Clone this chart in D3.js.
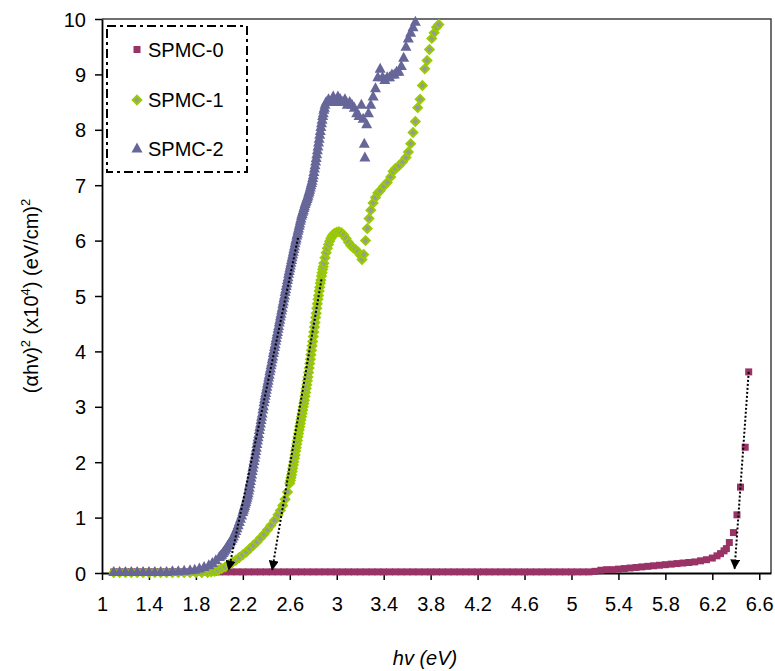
<!DOCTYPE html>
<html>
<head>
<meta charset="utf-8">
<script src="https://cdn.jsdelivr.net/npm/d3@7"></script>
<style>
    body { margin: 0; background: #fff; }
    text { font-family: "Liberation Sans", Arial, sans-serif; }
</style>
</head>
<body>
<svg id="chart" width="775" height="671"></svg>
<script>
// tick labels
const xTicks = [1, 1.4, 1.8, 2.2, 2.6, 3, 3.4, 3.8, 4.2, 4.6, 5, 5.4, 5.8, 6.2, 6.6];
const yTicks = [0, 1, 2, 3, 4, 5, 6, 7, 8, 9, 10];
const seriesNames = ["SPMC-0", "SPMC-1", "SPMC-2"];

// [hv (eV), (ahv)^2 x10^4]
const spmc0 = [
    [1.10, .02], [1.15, .02], [1.20, .02], [1.25, .02], [1.30, .02], [1.35, .02], [1.40, .02], [1.45, .02],
    [1.50, .02], [1.55, .02], [1.60, .02], [1.65, .02], [1.70, .02], [1.75, .02], [1.80, .02], [1.85, .02],
    [1.90, .02], [1.95, .02], [2.00, .02], [2.05, .02], [2.10, .02], [2.15, .02], [2.20, .02], [2.25, .02],
    [2.30, .02], [2.35, .02], [2.40, .02], [2.45, .02], [2.50, .02], [2.55, .02], [2.60, .02], [2.65, .02],
    [2.70, .02], [2.75, .02], [2.80, .02], [2.85, .02], [2.90, .02], [2.95, .02], [3.00, .02], [3.05, .02],
    [3.10, .02], [3.15, .02], [3.20, .02], [3.25, .02], [3.30, .02], [3.35, .02], [3.40, .02], [3.45, .02],
    [3.50, .02], [3.55, .02], [3.60, .02], [3.65, .02], [3.70, .02], [3.75, .02], [3.80, .02], [3.85, .02],
    [3.90, .02], [3.95, .02], [4.00, .02], [4.05, .02], [4.10, .02], [4.15, .02], [4.20, .02], [4.25, .02],
    [4.30, .02], [4.35, .02], [4.40, .02], [4.45, .02], [4.50, .02], [4.55, .02], [4.60, .02], [4.65, .02],
    [4.70, .02], [4.75, .02], [4.80, .02], [4.85, .02], [4.90, .02], [4.95, .02], [5.00, .02], [5.05, .02],
    [5.10, .02], [5.15, .02], [5.20, .03], [5.25, .05], [5.30, .06], [5.35, .06], [5.40, .07], [5.45, .08],
    [5.50, .09], [5.55, .10], [5.60, .11], [5.65, .12], [5.70, .13], [5.75, .14], [5.80, .15], [5.85, .16],
    [5.90, .17], [5.95, .18], [6.00, .19], [6.05, .20], [6.10, .22], [6.15, .24], [6.20, .27], [6.24, .31],
    [6.27, .35], [6.30, .40], [6.32, .44], [6.345, .55], [6.38, .73], [6.41, 1.05], [6.44, 1.55], [6.48, 2.27],
    [6.51, 3.63]
];

const spmc1 = [
    [1.10, .01], [1.15, .01], [1.20, .01], [1.25, .01], [1.30, .01], [1.35, .01], [1.40, .01], [1.45, .01],
    [1.50, .01], [1.55, .01], [1.60, .01], [1.65, .01], [1.70, .01], [1.75, .01], [1.80, .01], [1.85, .01],
    [1.90, .01], [1.93, .02], [1.96, .03], [1.99, .05], [2.02, .08], [2.05, .11], [2.08, .15], [2.11, .19],
    [2.14, .23], [2.17, .28], [2.20, .33], [2.23, .38], [2.26, .44], [2.29, .50], [2.32, .56], [2.35, .63],
    [2.38, .70], [2.41, .78], [2.44, .86], [2.47, .95], [2.50, 1.05], [2.52, 1.13], [2.54, 1.22], [2.56, 1.33],
    [2.58, 1.46], [2.60, 1.62], [2.605, 1.67], [2.61, 1.72], [2.615, 1.77], [2.62, 1.83], [2.625, 1.89],
    [2.63, 1.95], [2.635, 2.01], [2.64, 2.07], [2.645, 2.13], [2.65, 2.20], [2.655, 2.26], [2.66, 2.33],
    [2.665, 2.39], [2.67, 2.46], [2.675, 2.52], [2.68, 2.58], [2.685, 2.64], [2.69, 2.70], [2.695, 2.76],
    [2.70, 2.82], [2.705, 2.88], [2.71, 2.94], [2.715, 3.00], [2.72, 3.06], [2.725, 3.12], [2.73, 3.19],
    [2.735, 3.26], [2.74, 3.33], [2.745, 3.40], [2.75, 3.47], [2.755, 3.54], [2.76, 3.62], [2.765, 3.70],
    [2.77, 3.78], [2.775, 3.86], [2.78, 3.94], [2.785, 4.02], [2.79, 4.10], [2.795, 4.18], [2.80, 4.27],
    [2.805, 4.35], [2.81, 4.44], [2.815, 4.52], [2.82, 4.61], [2.825, 4.69], [2.83, 4.78], [2.835, 4.86],
    [2.84, 4.94], [2.845, 5.01], [2.85, 5.09], [2.855, 5.16], [2.86, 5.23], [2.865, 5.29], [2.87, 5.36],
    [2.875, 5.42], [2.88, 5.48], [2.885, 5.53], [2.89, 5.59], [2.90, 5.69],
    [2.91, 5.78], [2.92, 5.86], [2.93, 5.93], [2.94, 5.99], [2.95, 6.04], [2.96, 6.08], [2.97, 6.11], [2.98, 6.13],
    [3.00, 6.15], [3.02, 6.16], [3.04, 6.14], [3.06, 6.10], [3.08, 6.04], [3.10, 5.97], [3.12, 5.91], [3.14, 5.87],
    [3.16, 5.84], [3.18, 5.80], [3.20, 5.74], [3.215, 5.66], [3.23, 5.75], [3.245, 6.00], [3.26, 6.22], [3.275, 6.40],
    [3.29, 6.55], [3.31, 6.68], [3.33, 6.78], [3.35, 6.86], [3.37, 6.90], [3.40, 6.98], [3.43, 7.05], [3.46, 7.15],
    [3.48, 7.25], [3.50, 7.30], [3.53, 7.35], [3.56, 7.42], [3.59, 7.50], [3.61, 7.60], [3.63, 7.75], [3.65, 7.95],
    [3.67, 8.15], [3.69, 8.40], [3.71, 8.55], [3.73, 8.80], [3.75, 9.10], [3.77, 9.25], [3.79, 9.45], [3.81, 9.65],
    [3.83, 9.75], [3.85, 9.85], [3.87, 9.90]
];

const spmc2 = [
    [1.10, .02], [1.15, .02], [1.20, .02], [1.25, .02], [1.30, .02], [1.35, .02], [1.40, .02], [1.45, .02],
    [1.50, .02], [1.55, .02], [1.60, .03], [1.65, .03], [1.70, .04], [1.75, .05], [1.79, .06], [1.83, .08],
    [1.87, .11], [1.91, .14], [1.94, .18], [1.97, .23], [2.00, .29], [2.01, .31], [2.02, .33], [2.03, .36],
    [2.04, .39], [2.05, .42], [2.06, .45], [2.07, .49], [2.08, .52], [2.09, .55], [2.10, .58], [2.11, .62],
    [2.12, .66], [2.13, .71], [2.14, .76], [2.15, .81], [2.16, .86], [2.17, .92], [2.18, .98], [2.19, 1.04],
    [2.20, 1.10], [2.205, 1.14], [2.21, 1.18], [2.215, 1.21], [2.22, 1.25], [2.225, 1.28], [2.23, 1.32],
    [2.235, 1.36], [2.24, 1.40], [2.245, 1.44], [2.25, 1.49], [2.255, 1.54], [2.26, 1.60], [2.265, 1.66],
    [2.27, 1.72], [2.275, 1.78], [2.28, 1.84], [2.285, 1.90], [2.29, 1.96], [2.295, 2.02], [2.30, 2.08],
    [2.305, 2.14], [2.31, 2.20], [2.315, 2.26], [2.32, 2.33], [2.325, 2.39], [2.33, 2.45], [2.335, 2.51],
    [2.34, 2.58], [2.345, 2.64], [2.35, 2.70], [2.355, 2.76], [2.36, 2.82], [2.365, 2.88], [2.37, 2.95],
    [2.375, 3.01], [2.38, 3.08], [2.385, 3.14], [2.39, 3.20], [2.395, 3.25], [2.40, 3.31], [2.405, 3.36],
    [2.41, 3.42], [2.415, 3.47], [2.42, 3.53], [2.425, 3.58], [2.43, 3.64], [2.435, 3.69], [2.44, 3.75],
    [2.445, 3.80], [2.45, 3.86], [2.455, 3.91], [2.46, 3.97], [2.465, 4.02], [2.47, 4.08], [2.475, 4.13],
    [2.48, 4.19], [2.485, 4.24], [2.49, 4.30], [2.495, 4.35], [2.50, 4.41], [2.505, 4.46], [2.51, 4.52],
    [2.515, 4.57], [2.52, 4.63], [2.525, 4.68], [2.53, 4.74], [2.535, 4.79], [2.54, 4.85], [2.545, 4.90],
    [2.55, 4.96], [2.555, 5.01], [2.56, 5.07], [2.565, 5.12], [2.57, 5.18], [2.575, 5.23], [2.58, 5.29],
    [2.585, 5.34], [2.59, 5.40], [2.595, 5.45], [2.60, 5.50], [2.605, 5.55], [2.61, 5.60], [2.615, 5.65],
    [2.62, 5.70], [2.625, 5.75], [2.63, 5.80], [2.635, 5.85], [2.64, 5.90], [2.645, 5.95], [2.65, 6.00],
    [2.655, 6.04], [2.66, 6.09], [2.665, 6.13], [2.67, 6.18], [2.675, 6.22], [2.68, 6.27], [2.685, 6.31],
    [2.69, 6.36], [2.695, 6.40], [2.70, 6.45], [2.705, 6.48], [2.71, 6.52], [2.715, 6.55], [2.72, 6.59],
    [2.725, 6.62], [2.73, 6.66], [2.735, 6.69], [2.74, 6.72], [2.745, 6.75], [2.75, 6.78], [2.755, 6.81],
    [2.76, 6.85], [2.765, 6.88], [2.77, 6.92], [2.775, 6.96], [2.78, 7.00], [2.785, 7.04], [2.79, 7.08],
    [2.795, 7.13], [2.80, 7.18], [2.805, 7.24], [2.81, 7.30], [2.815, 7.36], [2.82, 7.43], [2.825, 7.49],
    [2.83, 7.56], [2.835, 7.63], [2.84, 7.70], [2.845, 7.77], [2.85, 7.84], [2.855, 7.91], [2.86, 7.98],
    [2.865, 8.05], [2.87, 8.12], [2.875, 8.18], [2.88, 8.25], [2.885, 8.30], [2.89, 8.36], [2.895, 8.40],
    [2.90, 8.45], [2.91, 8.50],
    [2.93, 8.55], [2.95, 8.50], [2.97, 8.60], [2.99, 8.50], [3.01, 8.60], [3.03, 8.55], [3.05, 8.50], [3.07, 8.55],
    [3.09, 8.45], [3.11, 8.50], [3.13, 8.45], [3.15, 8.40], [3.17, 8.30], [3.19, 8.25], [3.21, 8.45], [3.225, 8.20],
    [3.235, 7.75], [3.24, 7.50], [3.255, 8.10], [3.27, 8.30], [3.29, 8.45], [3.31, 8.60], [3.33, 8.75], [3.35, 8.95],
    [3.37, 9.10], [3.39, 8.95], [3.41, 8.90], [3.43, 8.95], [3.45, 8.95], [3.47, 9.00], [3.49, 9.00], [3.51, 9.05],
    [3.53, 9.05], [3.55, 9.15], [3.57, 9.30], [3.59, 9.50], [3.61, 9.65], [3.63, 9.75], [3.65, 9.85], [3.67, 9.95]
];

// dotted tangent arrows: [hv start, y start, hv tip, y tip]
const tangents = [
    [2.67, 6.05, 2.08, 0.06],
    [2.87, 5.30, 2.45, 0.06],
    [6.51, 3.63, 6.39, 0.08]
];

const svg = d3.select("#chart");

const x = d3.scaleLinear().domain([1, 6.7]).range([102, 771]);
const y = d3.scaleLinear().domain([0, 10]).range([573, 19]);

// plot area frame (top and right)
svg.append("path")
    .attr("d", "M" + x(1) + "," + y(10) + "H" + x(6.7) + "V" + y(0))
    .attr("fill", "none")
    .attr("stroke", "#404040")
    .attr("stroke-width", 1.5);

// x axis
const gx = svg.append("g")
    .attr("transform", "translate(0," + y(0) + ")")
    .call(d3.axisBottom(x).tickValues(xTicks).tickSize(7).tickSizeOuter(0).tickFormat(d => String(d)));
gx.selectAll("text").attr("y", 38).attr("dy", 0).style("font-size", "20px").attr("fill", "#000");

// y axis
const gy = svg.append("g")
    .attr("transform", "translate(" + x(1) + ",0)")
    .call(d3.axisLeft(y).tickValues(yTicks).tickSize(7).tickSizeOuter(0).tickFormat(d => String(d)));
gy.selectAll("text").attr("x", -16).attr("dy", "0.35em").style("font-size", "20px").attr("fill", "#000");

[gx, gy].forEach(g => {
    g.select(".domain").attr("stroke", "#000").attr("stroke-width", 1.8);
    g.selectAll(".tick line").attr("stroke", "#000").attr("stroke-width", 1.5);
});

// marker shapes
const markers = [
    { path: "M-3.5,-3.5H3.5V3.5H-3.5Z", fill: "#993366", stroke: "none", sw: 0 },
    { path: "M0,-4.3L4.3,0L0,4.3L-4.3,0Z", fill: "#999999", stroke: "#99cc00", sw: 2 },
    { path: "M0,-6L5.5,4L-5.5,4Z", fill: "#666699", stroke: "none", sw: 0 }
];

[spmc0, spmc1, spmc2].forEach((data, i) => {
    const m = markers[i];
    svg.append("g").selectAll("path")
        .data(data)
        .enter().append("path")
        .attr("d", m.path)
        .attr("transform", d => "translate(" + x(d[0]) + "," + y(d[1]) + ")")
        .attr("fill", m.fill)
        .attr("stroke", m.stroke)
        .attr("stroke-width", m.sw);
});

// dotted arrows
svg.append("defs").append("marker")
    .attr("id", "arrow")
    .attr("viewBox", "0 0 10 10")
    .attr("refX", 9).attr("refY", 5)
    .attr("markerWidth", 10).attr("markerHeight", 10)
    .attr("markerUnits", "userSpaceOnUse")
    .attr("orient", "auto")
    .append("path")
    .attr("d", "M0,0L10,5L0,10Z")
    .attr("fill", "#000");

svg.append("g").selectAll("line")
    .data(tangents)
    .enter().append("line")
    .attr("x1", d => x(d[0])).attr("y1", d => y(d[1]))
    .attr("x2", d => x(d[2])).attr("y2", d => y(d[3]))
    .attr("stroke", "#000")
    .attr("stroke-width", 2)
    .attr("stroke-dasharray", "2,2")
    .attr("marker-end", "url(#arrow)");

// legend
const legend = svg.append("g");
legend.append("rect")
    .attr("x", 107).attr("y", 26)
    .attr("width", 140).attr("height", 146)
    .attr("fill", "#fff")
    .attr("stroke", "#000")
    .attr("stroke-width", 2)
    .attr("stroke-dasharray", "9,4,3,4");

const legendY = [49.5, 100, 148.5];
seriesNames.forEach((name, i) => {
    const m = markers[i];
    legend.append("path")
        .attr("d", m.path)
        .attr("transform", "translate(137," + legendY[i] + ")")
        .attr("fill", m.fill)
        .attr("stroke", m.stroke)
        .attr("stroke-width", m.sw);
    legend.append("text")
        .attr("x", 148)
        .attr("y", legendY[i] + 7)
        .style("font-size", "20px")
        .text(name);
});

// axis titles
svg.append("text")
    .attr("x", 425)
    .attr("y", 665)
    .attr("text-anchor", "middle")
    .style("font-size", "20px")
    .style("font-style", "italic")
    .text("hv (eV)");

const yTitle = svg.append("text")
    .attr("transform", "translate(38,296) rotate(-90)")
    .attr("text-anchor", "middle")
    .style("font-size", "20px");
yTitle.append("tspan").text("(\u03b1hv)");
yTitle.append("tspan").attr("dy", -8).style("font-size", "13px").text("2");
yTitle.append("tspan").attr("dy", 8).text(" (x10");
yTitle.append("tspan").attr("dy", -8).style("font-size", "13px").text("4");
yTitle.append("tspan").attr("dy", 8).text(") (eV/cm)");
yTitle.append("tspan").attr("dy", -8).style("font-size", "13px").text("2");
</script>
</body>
</html>
